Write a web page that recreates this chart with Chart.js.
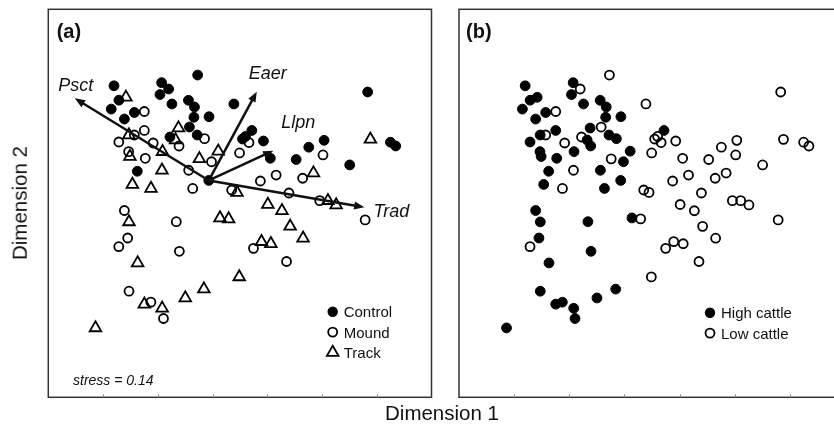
<!DOCTYPE html>
<html>
<head>
<meta charset="utf-8">
<script src="https://cdn.jsdelivr.net/npm/chart.js@4.4.1/dist/chart.umd.min.js"></script>
<style>
  html, body { margin: 0; padding: 0; background: #fff; width: 834px; height: 430px; overflow: hidden; }
  .panel { position: absolute; top: 0; height: 430px; }
  .title { position: absolute; font-family: "Liberation Sans", Arial, sans-serif; color: #111; white-space: nowrap; line-height: 1; }
</style>
</head>
<body>
<div class="panel" style="left:0;width:440px"><canvas id="chartA"></canvas></div>
<div class="panel" style="left:450px;width:410px"><canvas id="chartB"></canvas></div>
<div class="title" style="left:442px;top:402.5px;font-size:20.5px;transform:translateX(-50%)">Dimension 1</div>
<div class="title" style="left:20px;top:203px;font-size:20.5px;transform:translate(-50%,-50%) rotate(-90deg)">Dimension 2</div>

<script>
// NMDS ordination, same sites in both panels
const xRange = [-1.5, 2.0];
const yRange = [-2.0, 1.5];
const tickValues = [-1.0, -0.5, 0, 0.5, 1.0, 1.5];

// panel (a) groups, [dim1, dim2]
const controlPts = [
  [-0.90, 0.81], [-0.855, 0.68], [-0.925, 0.60], [-0.805, 0.51], [-0.714, 0.569],
  [-0.465, 0.838], [-0.401, 0.781], [-0.48, 0.731], [-0.371, 0.646], [-0.136, 0.907],
  [-0.22, 0.679], [-0.165, 0.619], [-0.17, 0.526], [-0.032, 0.531], [-0.211, 0.438],
  [-0.389, 0.348], [-0.14, 0.366], [0.195, 0.646], [0.359, 0.407], [0.301, 0.353],
  [0.465, 0.312], [0.528, 0.156], [-0.687, 0.039], [-0.034, -0.044], [0.764, 0.145],
  [0.879, 0.256], [1.019, 0.318], [1.253, 0.096], [1.417, 0.754], [1.625, 0.301],
  [1.673, 0.267], [0.274, 0.33]
];
const moundPts = [
  [-0.623, 0.578], [-0.623, 0.407], [-0.714, 0.366], [-0.856, 0.303], [-0.766, 0.216],
  [-0.614, 0.156], [-0.542, 0.294], [-0.306, 0.267], [-0.073, 0.333], [-0.009, 0.125],
  [-0.218, 0.048], [-0.181, -0.116], [0.175, -0.13], [0.247, 0.204], [0.333, 0.298],
  [1.009, 0.186], [0.581, 0.005], [0.437, -0.049], [0.823, -0.024], [0.698, -0.157],
  [0.979, -0.226], [1.394, -0.40], [-0.805, -0.315], [-0.331, -0.416], [-0.775, -0.563],
  [-0.856, -0.641], [-0.303, -0.683], [0.374, -0.656], [0.676, -0.775], [-0.763, -1.043],
  [-0.563, -1.142], [-0.448, -1.289]
];
const trackPts = [
  [-0.791, 0.706], [-0.764, 0.366], [-0.755, 0.172], [-0.457, 0.216], [-0.311, 0.429],
  [-0.338, 0.321], [-0.12, 0.151], [0.052, 0.22], [-0.462, 0.048], [-0.732, -0.08],
  [-0.562, -0.116], [0.223, -0.152], [0.922, 0.023], [1.442, 0.327], [0.505, -0.261],
  [0.634, -0.317], [0.709, -0.458], [0.827, -0.565], [0.447, -0.596], [0.533, -0.615],
  [1.054, -0.226], [1.129, -0.265], [-0.763, -0.418], [0.068, -0.382], [0.147, -0.391],
  [-0.684, -0.788], [0.244, -0.914], [-0.079, -1.024], [-0.249, -1.104], [-0.623, -1.16],
  [-0.46, -1.197], [-1.069, -1.374]
];

// panel (b): 1 = high cattle, 0 = low cattle (same order as above)
const controlHigh = [1,1,1,1,1, 1,0,1,1,0, 1,1,1,1,0, 0,1,0,1,0, 0,0,1,1,0, 0,0,0,0,0, 0,0];
const moundHigh   = [0,1,0,1,1, 1,0,1,1,1, 1,1,0,0,0, 0,0,0,0,0, 0,0,1,1,1, 0,1,0,0,1, 1,1];
const trackHigh   = [1,1,1,1,1, 1,0,1,0,1, 0,0,0,0,0, 0,0,0,0,0, 0,0,1,1,0, 1,0,1,1,1, 1,1];

// fitted species vectors
const vectorNames = ["Psct", "Eaer", "Llpn", "Trad"];
const vectorOrigin = [-0.034, -0.044];
const vectorTips = [[-1.258, 0.697], [0.404, 0.757], [0.555, 0.225], [1.387, -0.286]];
const stressValue = 0.14;

const FONT = '"Liberation Sans", Arial, sans-serif';
const toXY = p => ({ x: p[0], y: p[1] });

const filledStyle = { pointStyle: "circle", pointRadius: 4.9, pointBackgroundColor: "#000", pointBorderColor: "#000", pointBorderWidth: 1 };
const openStyle = { pointStyle: "circle", pointRadius: 4.5, pointBackgroundColor: "rgba(0,0,0,0)", pointBorderColor: "#000", pointBorderWidth: 1.8 };
const triStyle = { pointStyle: "triangle", pointRadius: 6.7, pointBackgroundColor: "rgba(0,0,0,0)", pointBorderColor: "#000", pointBorderWidth: 1.8 };

function marker(ctx, kind, x, y) {
  ctx.save();
  ctx.strokeStyle = "#000";
  ctx.fillStyle = "#000";
  ctx.beginPath();
  if (kind === "tri") {
    const r = 6.7;
    ctx.moveTo(x, y - r);
    ctx.lineTo(x + r * Math.sin(Math.PI / 3), y + r / 2);
    ctx.lineTo(x - r * Math.sin(Math.PI / 3), y + r / 2);
    ctx.closePath();
    ctx.lineWidth = 1.8;
    ctx.stroke();
  } else if (kind === "open") {
    ctx.arc(x, y, 4.5, 0, Math.PI * 2);
    ctx.lineWidth = 1.8;
    ctx.stroke();
  } else {
    ctx.arc(x, y, 5.2, 0, Math.PI * 2);
    ctx.fill();
  }
  ctx.restore();
}

// frame, ticks, vectors, legend and labels
const framePlugin = {
  id: "frame",
  afterDatasetsDraw(chart, args, opts) {
    const { ctx, chartArea: a, scales: { x, y } } = chart;
    ctx.save();

    if (opts.vectors) {
      const ox = x.getPixelForValue(vectorOrigin[0]);
      const oy = y.getPixelForValue(vectorOrigin[1]);
      const labelOffsets = [[1, -12], [11, -18], [25, -28], [27, 5]];
      vectorTips.forEach((t, i) => {
        const tx = x.getPixelForValue(t[0]);
        const ty = y.getPixelForValue(t[1]);
        const ang = Math.atan2(ty - oy, tx - ox);
        const L = 11, w = 0.38;
        const bx = tx - (L - 2) * Math.cos(ang), by = ty - (L - 2) * Math.sin(ang);
        ctx.strokeStyle = "#111";
        ctx.fillStyle = "#111";
        ctx.lineWidth = 2.5;
        ctx.beginPath();
        ctx.moveTo(ox, oy);
        ctx.lineTo(bx, by);
        ctx.stroke();
        ctx.beginPath();
        ctx.moveTo(tx, ty);
        ctx.lineTo(tx - L * Math.cos(ang - w), ty - L * Math.sin(ang - w));
        ctx.lineTo(tx - L * Math.cos(ang + w), ty - L * Math.sin(ang + w));
        ctx.closePath();
        ctx.fill();
        ctx.font = "italic 18px " + FONT;
        ctx.textAlign = "center";
        ctx.textBaseline = "middle";
        ctx.fillText(vectorNames[i], tx + labelOffsets[i][0], ty + labelOffsets[i][1]);
      });
    }

    // box
    ctx.strokeStyle = "#333";
    ctx.lineWidth = 1.5;
    ctx.strokeRect(a.left, a.top, a.right - a.left, a.bottom - a.top);

    // small inner ticks on the bottom edge
    ctx.strokeStyle = "#888";
    ctx.lineWidth = 1;
    tickValues.forEach(v => {
      const px = Math.round(x.getPixelForValue(v)) + 0.5;
      ctx.beginPath();
      ctx.moveTo(px, a.bottom);
      ctx.lineTo(px, a.bottom - 3);
      ctx.stroke();
    });

    // panel tag
    ctx.fillStyle = "#111";
    ctx.textAlign = "left";
    ctx.textBaseline = "alphabetic";
    ctx.font = "bold 20px " + FONT;
    ctx.fillText(opts.tag, a.left + opts.tagDx, a.top + 28.5);

    // legend
    ctx.font = "15px " + FONT;
    opts.legend.forEach((item, i) => {
      const lx = a.left + opts.legendAt[0];
      const ly = a.top + opts.legendAt[1] + i * 20.4;
      marker(ctx, item.kind, lx, ly);
      ctx.fillStyle = "#111";
      ctx.fillText(item.text, lx + 11, ly + 5.4);
    });

    if (opts.stress) {
      ctx.font = "italic 14px " + FONT;
      ctx.fillText("stress = " + stressValue.toFixed(2), a.left + 24.7, 385);
    }
    ctx.restore();
  }
};

function makeChart(id, datasets, pad, frameOpts) {
  return new Chart(document.getElementById(id), {
    type: "scatter",
    data: { datasets },
    options: {
      responsive: true,
      maintainAspectRatio: false,
      animation: false,
      devicePixelRatio: 1,
      events: [],
      layout: { padding: pad },
      scales: {
        x: { type: "linear", min: xRange[0], max: xRange[1], display: false },
        y: { type: "linear", min: yRange[0], max: yRange[1], display: false }
      },
      plugins: {
        legend: { display: false },
        tooltip: { enabled: false },
        frame: frameOpts
      }
    },
    plugins: [framePlugin]
  });
}

// panel (a): treatments with vectors
makeChart("chartA", [
  Object.assign({ label: "Control", data: controlPts.map(toXY) }, filledStyle),
  Object.assign({ label: "Mound", data: moundPts.map(toXY) }, openStyle),
  Object.assign({ label: "Track", data: trackPts.map(toXY) }, triStyle)
], { left: 48.3, right: 5.7, top: 9.3, bottom: 32.7 }, {
  vectors: true,
  stress: true,
  tag: "(a)",
  tagDx: 8.4,
  legendAt: [284.4, 302.4],
  legend: [
    { kind: "filled", text: "Control" },
    { kind: "open", text: "Mound" },
    { kind: "tri", text: "Track" }
  ]
});

// panel (b): cattle intensity
const allPts = controlPts.concat(moundPts, trackPts);
const allHigh = controlHigh.concat(moundHigh, trackHigh);
const highPts = allPts.filter((p, i) => allHigh[i] === 1);
const lowPts = allPts.filter((p, i) => allHigh[i] === 0);

makeChart("chartB", [
  Object.assign({ label: "High cattle", data: highPts.map(toXY) }, filledStyle),
  Object.assign({ label: "Low cattle", data: lowPts.map(toXY) }, openStyle)
], { left: 9, right: 15, top: 9.3, bottom: 32.7 }, {
  vectors: false,
  stress: false,
  tag: "(b)",
  tagDx: 7,
  legendAt: [251, 303.4],
  legend: [
    { kind: "filled", text: "High cattle" },
    { kind: "open", text: "Low cattle" }
  ]
});
</script>
</body>
</html>
